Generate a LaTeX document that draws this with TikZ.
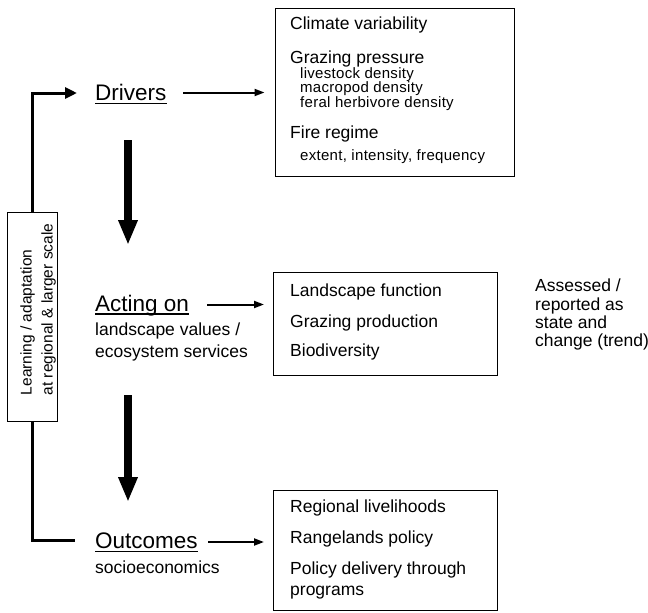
\documentclass[tikz,border=0pt]{standalone}
\usepackage{fontspec}
\setmainfont{Liberation Sans}
\newfontfamily\subfont[LetterSpace=2]{Liberation Sans}
\usetikzlibrary{arrows.meta}
\begin{document}
\begin{tikzpicture}[x=1pt,y=-1pt,
  txt/.style={inner sep=0pt, anchor=base west, font=\fontsize{17.5}{17.5}\selectfont},
  subtxt/.style={inner sep=0pt, anchor=base west, font=\subfont\fontsize{15}{15}\selectfont},
  asstxt/.style={inner sep=0pt, anchor=base west, font=\fontsize{17.5}{17.5}\selectfont},
  lbl/.style={inner sep=0pt, anchor=base west, font=\fontsize{22.5}{22.5}\selectfont},
  boxx/.style={draw, line width=1.1pt, inner sep=0pt, anchor=north west},
  uline/.style={line width=1.3pt},
  harrow/.style={line width=2pt, -{Triangle[length=10pt,width=7pt]}},
  varrow/.style={line width=8pt, -{Triangle[length=25pt,width=18pt]}},
  farrow/.style={line width=3pt},
]
\useasboundingbox (0,0) rectangle (648,613);

% boxes
\node[boxx, minimum width=239pt, minimum height=168pt] (dbox) at (274.5,8) {};
\node[boxx, minimum width=224pt, minimum height=103pt] (abox) at (273,272) {};
\node[boxx, minimum width=224pt, minimum height=120pt] (obox) at (273,490) {};
\node[boxx, minimum width=50pt, minimum height=209pt] (lbox) at (7,212) {};

% learning text
\node[rotate=90, align=left, inner sep=0pt, font=\fontsize{15.5}{21}\selectfont] (learn) at (38,309.5)
  {Learning / adaptation\\at regional \& larger scale};

% labels
\node[lbl] (drv) at (95,100) {Drivers};
\node[lbl] (act) at (95,311) {Acting on};
\node[txt] (act1) at (95,335) {landscape values /};
\node[txt] (act2) at (95,357) {ecosystem services};
\node[lbl] (out) at (95,548.3) {Outcomes};
\node[txt] (out1) at (95,573) {socioeconomics};
\draw[uline] ([yshift=-3.2pt]drv.base west) -- ([yshift=-3.2pt]drv.base east);
\draw[uline] ([yshift=-3.0pt]act.base west) -- ([yshift=-3.0pt]act.base east);
\draw[uline] ([yshift=-3.3pt]out.base west) -- ([yshift=-3.3pt]out.base east);

% drivers box content
\node[txt] (d1) at (290,29) {Climate variability};
\node[txt] (d2) at (290,63) {Grazing pressure};
\node[subtxt] (d21) at (300,78) {livestock density};
\node[subtxt] (d22) at (300,92.5) {macropod density};
\node[subtxt] (d23) at (300,107) {feral herbivore density};
\node[txt] (d3) at (290,138) {Fire regime};
\node[subtxt] (d31) at (300,160) {extent, intensity, frequency};

% acting box content
\node[txt] (a1) at (290,296) {Landscape function};
\node[txt] (a2) at (290,327.5) {Grazing production};
\node[txt] (a3) at (290,356) {Biodiversity};

% assessed text
\node[asstxt] (s1) at (535,291.5) {Assessed /};
\node[asstxt] (s2) at (535,310.5) {reported as};
\node[asstxt] (s3) at (535,328.5) {state and};
\node[asstxt] (s4) at (535,346.5) {change (trend)};

% outcomes box content
\node[txt] (o1) at (290,512.7) {Regional livelihoods};
\node[txt] (o2) at (290,543.7) {Rangelands policy};
\node[txt] (o3) at (290,574.5) {Policy delivery through};
\node[txt] (o4) at (290,595) {programs};

% horizontal arrows
\coordinate (dA) at (183,92.5);
\coordinate (aA) at (207,304.5);
\coordinate (oA) at (208,542);
\draw[harrow, shorten >=10pt] (dA) -- (dA -| dbox.west);
\draw[harrow, shorten >=9pt] (aA) -- (aA -| abox.west);
\draw[harrow, shorten >=9pt] (oA) -- (oA -| obox.west);

% vertical arrows
\coordinate (v1s) at (128,140);
\coordinate (v1e) at (128,245);
\coordinate (v2s) at (128,395);
\coordinate (v2e) at (128,502);
\draw[varrow] (v1s) -- (v1e);
\draw[varrow] (v2s) -- (v2e);

% feedback loop
\coordinate (fbT) at (77,93);
\coordinate (fbB) at (75,540);
\draw[farrow, -{Triangle[length=12pt,width=11pt]}] (lbox.north) |- (fbT);
\draw[farrow] (lbox.south) |- (fbB);
\end{tikzpicture}
\end{document}
